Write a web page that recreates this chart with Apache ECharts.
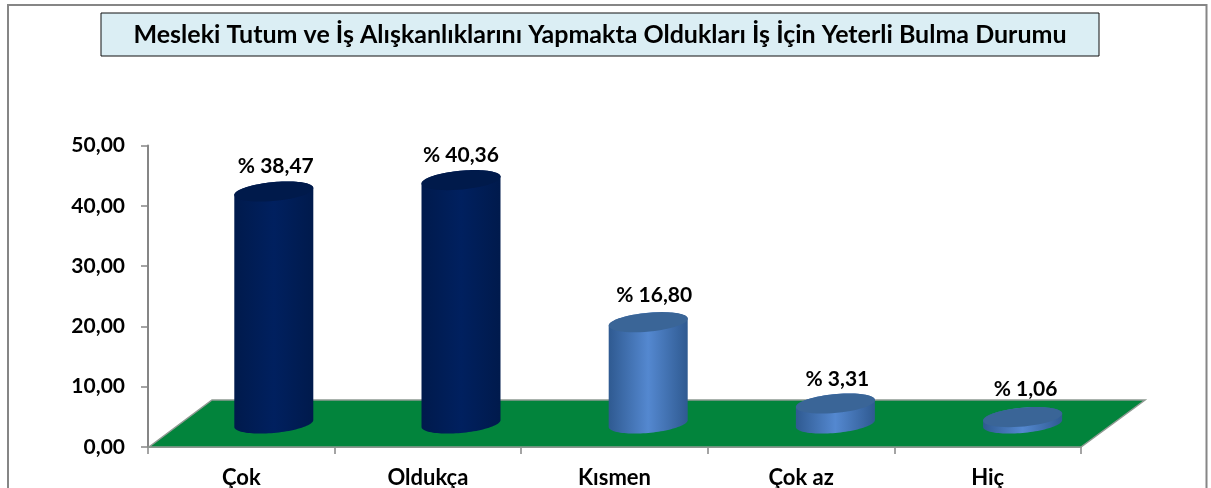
<!DOCTYPE html>
<html><head><meta charset="utf-8">
<style>html,body{margin:0;padding:0;background:#fff;overflow:hidden}#c{width:1211px;height:488px}</style>
<script src="https://cdn.jsdelivr.net/npm/echarts@6/dist/echarts.min.js"></script>
</head><body><div id="c"></div>
<script>
const categories = ['Çok','Oldukça','Kısmen','Çok az','Hiç'];
const values = [38.47,40.36,16.80,3.31,1.06];
const yTicks = {min:0,max:50,interval:10};
const titleText = 'Mesleki Tutum ve İş Alışkanlıklarını Yapmakta Oldukları İş İçin Yeterli Bulma Durumu';

const FONT = 'Lato, "Open Sans", sans-serif';
const DEPTH = {x:64, y:47};
const R_FRACTION = 0.2117;
const darkStyle = {edge:'#001a4c',mid:'#00205f',top:'#001a4b'};
const blueStyle = {edge:'#2f5a91',mid:'#5488d0',top:'#3a6597'};
const barStyles = [darkStyle,darkStyle,blueStyle,blueStyle,blueStyle];
const labelNudge = [[2,-25],[0,-25],[6,-27],[2,-24],[3,-28]];

const fmt = v => v.toFixed(2).replace('.',',');

function renderFloor(params, api){
  const c = params.coordSys;
  const b = c.y + c.height;
  return {type:'polygon',silent:true,shape:{points:[
    [c.x+1,b],[c.x+c.width,b],[c.x+c.width+DEPTH.x,b-DEPTH.y],[c.x+DEPTH.x,b-DEPTH.y]
  ]},style:{fill:'#02843c',stroke:'#8f9a92',lineWidth:1.5}};
}

function renderCylinder(params, api){
  const i = api.value(0), v = api.value(1);
  const base = api.coord([i,0]), top = api.coord([i,v]);
  const half = api.size([1,0])[0]*R_FRACTION;
  const cx = base[0]+DEPTH.x/2+0.5+i*0.6, by = base[1]-DEPTH.y/2, ty = top[1]-DEPTH.y/2;
  const dy = half*0.255, dx = dy*DEPTH.x/DEPTH.y;
  const r = Math.sqrt(half*half-dx*dx);
  const t0 = Math.atan2(dx,r);
  const P = (t,cy)=>[cx+r*Math.cos(t)+dx*Math.sin(t), cy-dy*Math.sin(t)];
  const arc = (a,b,cy)=>{const o=[];for(let k=0;k<=48;k++)o.push(P(a+(b-a)*k/48,cy));return o;};
  const body = arc(t0+Math.PI,t0+2*Math.PI,by).concat(arc(t0,t0+Math.PI,ty));
  const cap = arc(0,2*Math.PI,ty);
  const s = barStyles[i];
  const grad = new echarts.graphic.LinearGradient(0,0,1,0,[
    {offset:0,color:s.edge},{offset:0.5,color:s.mid},{offset:1,color:s.edge}]);
  return {type:'group',children:[
    {type:'polygon',shape:{points:body},style:{fill:grad}},
    {type:'polygon',shape:{points:cap},style:{fill:s.top}},
    {type:'text',style:{text:'% '+fmt(v),x:cx+labelNudge[i][0],y:ty+labelNudge[i][1],
      align:'center',verticalAlign:'middle',fill:'#000',font:'bold 21px '+FONT}}
  ]};
}

const chart = echarts.init(document.getElementById('c'));
chart.setOption({
  animation:false,
  backgroundColor:'#fff',
  graphic:[
    {type:'rect',z:-1,shape:{x:8,y:5,width:1198.5,height:520},style:{fill:'#fff',stroke:'#868686',lineWidth:2}}
  ],
  title:{text:titleText,left:100.5,top:12.5,
    padding:[10,33,9,33],backgroundColor:'#dbeef4',borderColor:'#111',borderWidth:1,
    textStyle:{fontFamily:FONT,fontWeight:'bold',fontSize:25,color:'#000',lineHeight:25}},
  grid:{left:148,right:130,top:145.5,bottom:41,outerBoundsMode:'none'},
  xAxis:{type:'category',data:categories,
    axisLine:{lineStyle:{color:'#868686',width:2}},
    axisTick:{show:true,alignWithLabel:false,length:7,lineStyle:{color:'#868686',width:1.5}},
    axisLabel:{color:'#000',fontFamily:FONT,fontWeight:'bold',fontSize:22,margin:20}},
  yAxis:{type:'value',min:yTicks.min,max:yTicks.max,interval:yTicks.interval,
    splitLine:{show:false},
    axisLine:{show:true,lineStyle:{color:'#868686',width:2}},
    axisTick:{show:true,length:7,lineStyle:{color:'#868686',width:1.5}},
    axisLabel:{color:'#000',fontFamily:FONT,fontWeight:'bold',fontSize:21,margin:23,padding:[2,0,0,0],formatter:v=>fmt(v)}},
  series:[
    {type:'custom',z:1,silent:true,data:[[0,0]],renderItem:renderFloor,clip:false},
    {type:'custom',z:2,silent:true,data:categories.map((c,i)=>[i,values[i]]),renderItem:renderCylinder,clip:false,encode:{x:0,y:1}}
  ]
});
</script></body></html>
